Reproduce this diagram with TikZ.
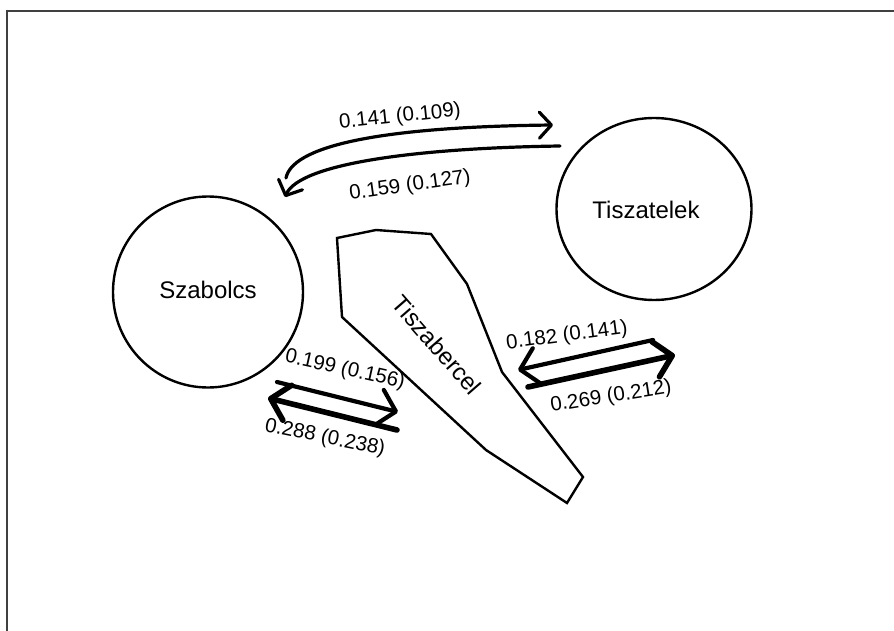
\documentclass[tikz,border=0pt]{standalone}
\usepackage{fontspec}
\setmainfont{Liberation Sans}
\usetikzlibrary{arrows.meta,shapes.geometric}
\tikzset{
  region/.style={draw, line width=2.4pt, ellipse, inner sep=0pt},
  nodetext/.style={font=\fontsize{24}{28}\selectfont, inner sep=0pt},
  flowlabel/.style={font=\fontsize{20.5}{24}\selectfont, inner sep=0pt},
  thinflow/.style={line width=3.2pt, line cap=round, -{Straight Barb[length=12pt,width=26pt,line cap=round,line join=round]}},
  midflow/.style={line width=4.2pt, line cap=round, -{Straight Barb[length=17pt,width=36pt,line cap=round,line join=round]}},
  thickflow/.style={line width=5.6pt, line cap=round, -{Straight Barb[length=17pt,width=36pt,line cap=round,line join=round]}},
}
\begin{document}
\begin{tikzpicture}[x=1pt, y=-1pt]
  \useasboundingbox (0,0) rectangle (894,631);
  % frame on the top and left edges
  \draw[line width=1.3pt, black!75] (7,631) -- (7,11) -- (894,11);

  % the two round regions
  \node[region, minimum width=190pt, minimum height=191pt] (szab) at (208,292) {};
  \node[nodetext] (szabtxt) at (208,290) {Szabolcs};
  \node[region, minimum width=195pt, minimum height=182pt] (tisz) at (654,209) {};
  \node[nodetext] (tisztxt) at (646,210) {Tiszatelek};

  % the elongated region
  \draw[line width=2.4pt, line join=miter]
    (337,238) -- (376,230) -- (431,234) -- (467,284) -- (502,372)
    -- (583,477) -- (567,503) -- (486,450) -- (342,317) -- cycle;
  \node[nodetext, rotate=-49] (berc) at (437,345) {Tiszabercel};

  % end points of the flows
  \coordinate (sz-top-out) at (286,178);
  \coordinate (tz-top-in)  at (553,125);
  \coordinate (tz-top-out) at (560,146);
  \coordinate (sz-top-in)  at (285,197);

  \coordinate (sz-bl-out) at (277,382);
  \coordinate (bc-bl-in)  at (398,412);
  \coordinate (bc-bl-out) at (397,430);
  \coordinate (sz-bl-in)  at (268,398);

  \coordinate (tz-r-out) at (653,340);
  \coordinate (bc-r-in)  at (518,370);
  \coordinate (bc-r-out) at (528,387);
  \coordinate (tz-r-in)  at (675,355);

  % Szabolcs <-> Tiszatelek
  \draw[thinflow] (sz-top-out) .. controls (292,148) and (370,127) .. (tz-top-in);
  \draw[thinflow] (tz-top-out) .. controls (420,148) and (300,163) .. (sz-top-in);
  \node[flowlabel, rotate=6] (l1) at (400,117) {0.141 (0.109)};
  \node[flowlabel, rotate=8] (l2) at (410,186) {0.159 (0.127)};

  % Szabolcs <-> Tiszabercel
  \draw[midflow] (sz-bl-out) -- (bc-bl-in);
  \draw[thickflow] (bc-bl-out) -- (sz-bl-in);
  \node[flowlabel, rotate=-12.5] (l3) at (345,370) {0.199 (0.156)};
  \node[flowlabel, rotate=-11.5] (l4) at (325,438) {0.288 (0.238)};

  % Tiszabercel <-> Tiszatelek
  \draw[midflow] (tz-r-out) -- (bc-r-in);
  \draw[thickflow] (bc-r-out) -- (tz-r-in);
  \node[flowlabel, rotate=7.5] (l5) at (567,336) {0.182 (0.141)};
  \node[flowlabel, rotate=9] (l6) at (611,397) {0.269 (0.212)};
\end{tikzpicture}
\end{document}
